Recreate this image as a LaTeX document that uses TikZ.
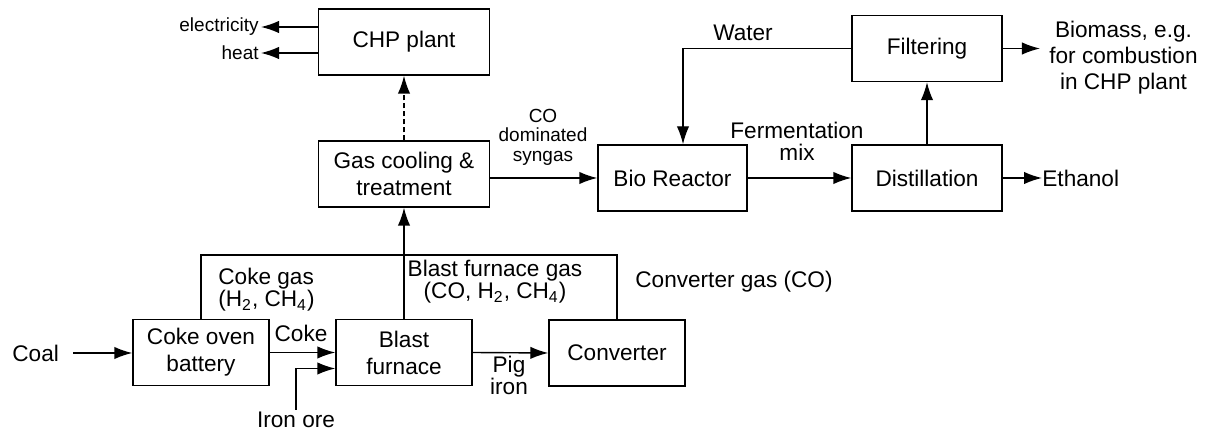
\documentclass[tikz,border=0pt]{standalone}
\usepackage{fontspec}
\setmainfont{Liberation Sans}
\usetikzlibrary{arrows.meta, positioning}

\begin{document}
\begin{tikzpicture}[x=0.5pt, y=-0.5pt,
    font=\fontsize{11.3}{13.5}\selectfont,
    proc/.style={draw, line width=0.7pt, minimum width=68pt,
          minimum height=33pt, align=center, inner sep=1pt},
    lbl/.style={align=center, inner sep=1pt,
          font=\fontsize{11.3}{11}\selectfont},
    smalllbl/.style={align=center, inner sep=1pt,
          font=\fontsize{9.5}{9.8}\selectfont},
    flow/.style={-{Latex[length=9pt, width=6.2pt]}, line width=0.7pt},
    link/.style={line width=0.7pt}]
    \useasboundingbox (0,0) rectangle (1207,432);

    % process blocks
    \node[proc, minimum width=85.5pt] (chp) at (404,42) {CHP plant};
    \node[proc, minimum width=85.5pt] (gas) at (404,174) {Gas cooling \&\\treatment};
    \node[proc] (coke) at (201,352.5) {Coke oven\\battery};
    \node[proc] (blast) at (404,352.5) {Blast\\furnace};
    \node[proc] (conv) at (617,353) {Converter};
    \node[proc, minimum width=74.5pt] (bio) at (672.5,178) {Bio Reactor};
    \node[proc, minimum width=75pt] (dist) at (927,178) {Distillation};
    \node[proc, minimum width=75pt] (filt) at (927,48.5) {Filtering};

    % inputs, outputs and stream names
    \node[lbl, anchor=west] (coal) at (10,353) {Coal};
    \node[lbl] (cokelbl) at (301,333) {Coke};
    \node[lbl] (ore) at (296,420) {Iron ore};
    \node[lbl, anchor=north] (pig) at (509,354) {Pig\\iron};
    \node[lbl, anchor=north west, align=left] (cokegas) at (216,266)
        {Coke gas\\(H\textsubscript{2}, CH\textsubscript{4})};
    \node[lbl] (bfgas) at (495,282)
        {Blast furnace gas\\(CO, H\textsubscript{2}, CH\textsubscript{4})};
    \node[lbl, anchor=west] (convgas) at (633,282) {Converter gas (CO)};
    \node[smalllbl, anchor=east] (elec) at (261,27) {electricity};
    \node[smalllbl, anchor=east] (heat) at (261,53) {heat};
    \node[smalllbl] (cosyn) at (543,137) {CO\\dominated\\syngas};
    \node[lbl] (fermlbl) at (797,141) {Fermentation\\mix};
    \node[lbl] (water) at (743,33) {Water};
    \node[lbl, anchor=west, inner sep=0pt] (eth) at (1042,178) {Ethanol};
    \node[lbl, font=\fontsize{11.3}{13}\selectfont] (biomass) at (1123.5,58)
        {Biomass, e.g.\\for combustion\\in CHP plant};

    % steel plant
    \draw[flow] ([xshift=6pt]coal.east) -- (coke.west |- coal.east);
    \draw[flow] (coke.east) -- (blast.west);
    \draw[flow] (ore.north) |- ([yshift=-8pt]blast.west);
    \draw[flow] (blast.east) -- (conv.west);
    \coordinate (gasrail) at (0,255);
    \draw[link] (coke.north) |- (conv.north |- gasrail) -- (conv.north);
    \draw[flow] (blast.north) -- (gas.south);
    \draw[flow, dash pattern=on 2.5pt off 1.5pt] (gas.north) -- (chp.south);
    \draw[flow] (chp.west |- elec.east) -- (elec.east);
    \draw[flow] (chp.west |- heat.east) -- (heat.east);

    % fermentation
    \draw[flow] (gas.east |- bio.west) -- (bio.west);
    \draw[flow] (bio.east) -- (dist.west);
    \draw[flow] (dist.north) -- (filt.south);
    \draw[flow] (filt.west) -| ([xshift=5.25pt]bio.north);
    \draw[flow] (dist.east) -- (eth.west);
    \draw[flow, shorten >=3.5pt] (filt.east) -- (filt.east -| biomass.west);
\end{tikzpicture}
\end{document}
